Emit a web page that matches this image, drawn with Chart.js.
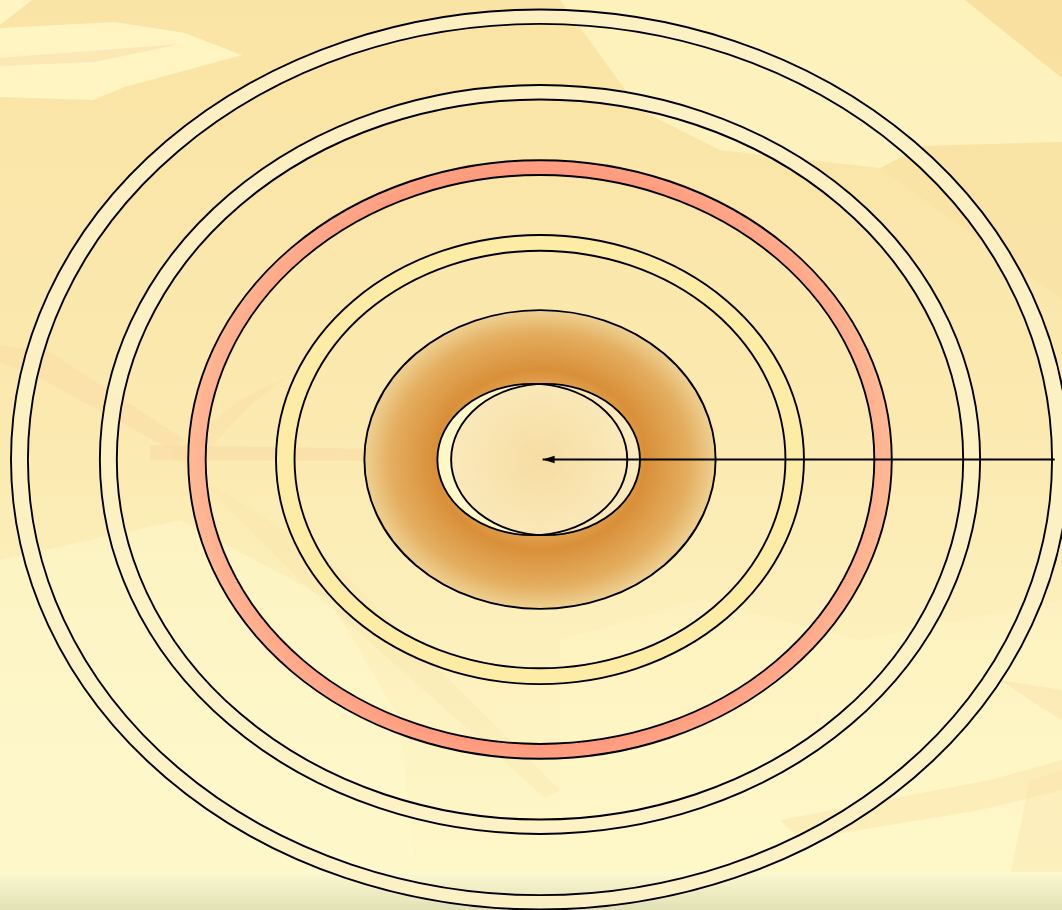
<!DOCTYPE html>
<html>
<head>
<meta charset="utf-8">
<script src="https://cdn.jsdelivr.net/npm/chart.js@4.4.1/dist/chart.umd.min.js"></script>
<style>
  html, body { margin: 0; padding: 0; background: #FAE6A8; overflow: hidden; }
  #wrap { width: 1062px; height: 910px; position: relative; }
</style>
</head>
<body>
<div id="wrap"><canvas id="c"></canvas></div>
<script>
// ---- data (radii in chart units; outermost ring = 100) ----
const ringNames  = ['Ring A', 'Ring B', 'Ring C', 'Ring D'];
const ringOuter  = [100.0, 83.2, 66.5, 49.9];
const ringInner  = [96.8, 80.0, 63.2, 46.4];
const discRadius = [33.2];
const coreCenterX = [-1.45, 1.05];
const coreRadiusX = [17.95, 17.85];
const coreRadiusY = [16.8, 16.8];
const arrowX = [97.3, 0.5];
const arrowY = [0, 0];

// axis bounds
const X_MIN = -102.08, X_MAX = 98.68;
const Y_MIN = -100.1,  Y_MAX = 102.1;

// ---- styles ----
const ringFills = ['rgba(252,241,196,0.92)', 'rgba(252,241,196,0.92)', 'salmon', 'rgba(253,236,166,1)'];
const LINE_W = 1.9;

function ellipse(ctx, cx, cy, rx, ry) {
  ctx.beginPath();
  ctx.ellipse(cx, cy, rx, ry, 0, 0, Math.PI * 2);
}
function poly(ctx, pts, color) {
  ctx.beginPath();
  ctx.moveTo(pts[0][0], pts[0][1]);
  for (let i = 1; i < pts.length; i++) ctx.lineTo(pts[i][0], pts[i][1]);
  ctx.closePath();
  ctx.fillStyle = color;
  ctx.fill();
}

const bgPlugin = {
  id: 'bg',
  beforeDraw(chart) {
    const ctx = chart.ctx, W = chart.width, H = chart.height;
    ctx.save();
    const g = ctx.createLinearGradient(0, 0, 0, H);
    g.addColorStop(0, '#FAE4A5');
    g.addColorStop(0.45, '#FBE9AF');
    g.addColorStop(0.8, '#FDF3C2');
    g.addColorStop(1, '#FEF8CA');
    ctx.fillStyle = g;
    ctx.fillRect(0, 0, W, H);
    // lighter streaks
    const L = 'rgba(254,248,200,0.85)';
    poly(ctx, [[0,0],[32,0],[0,25]], L);
    poly(ctx, [[0,28],[115,22],[185,33],[242,55],[125,87],[93,100],[0,97]], L);
    poly(ctx, [[0,58],[180,44],[95,62],[0,66]], 'rgba(250,224,170,0.6)');
    poly(ctx, [[560,0],[965,0],[1062,78],[1062,142],[925,146],[880,168],[720,150],[640,110]], 'rgba(254,246,198,0.7)');
    poly(ctx, [[965,0],[1062,0],[1062,78]], 'rgba(248,222,158,0.6)');
    poly(ctx, [[880,168],[925,146],[1062,142],[1062,300],[980,240]], 'rgba(247,220,158,0.35)');
    poly(ctx, [[0,560],[180,520],[330,600],[400,720],[420,910],[0,910]], 'rgba(254,250,205,0.5)');
    poly(ctx, [[560,640],[700,600],[860,640],[1062,600],[1062,880],[560,880]], 'rgba(254,248,200,0.35)');
    // darker streaks
    const D = 'rgba(248,216,160,0.35)';
    poly(ctx, [[0,345],[50,352],[185,440],[175,452],[40,378],[0,362]], D);
    poly(ctx, [[150,445],[380,449],[380,461],[150,460]], 'rgba(248,214,160,0.45)');
    poly(ctx, [[170,455],[240,400],[290,375],[250,405],[190,470]], 'rgba(248,216,160,0.25)');
    poly(ctx, [[190,470],[330,560],[560,790],[545,798],[300,580]], 'rgba(248,222,165,0.25)');
    poly(ctx, [[1000,680],[1062,690],[1062,720],[1030,700]], D);
    poly(ctx, [[780,820],[990,780],[1062,760],[1062,790],[980,810],[800,840]], 'rgba(248,220,160,0.35)');
    poly(ctx, [[1030,780],[1062,770],[1062,875],[1010,875]], 'rgba(248,222,165,0.3)');
    // footer strip
    const f = ctx.createLinearGradient(0, 872, 0, H);
    f.addColorStop(0, '#FCF8D0');
    f.addColorStop(1, '#E2E1B6');
    ctx.fillStyle = f;
    ctx.fillRect(0, 872, W, H - 872);
    ctx.restore();
  }
};

const ringsPlugin = {
  id: 'rings',
  beforeDatasetsDraw(chart) {
    const ctx = chart.ctx, xs = chart.scales.x, ys = chart.scales.y;
    const cx = xs.getPixelForValue(0), cy = ys.getPixelForValue(0);
    const rxOf = r => xs.getPixelForValue(r) - cx;
    const ryOf = r => cy - ys.getPixelForValue(r);
    ctx.save();
    ctx.lineWidth = LINE_W;
    ctx.strokeStyle = '#000';
    // rings
    for (let i = 0; i < ringOuter.length; i++) {
      const ro = ringOuter[i], ri = ringInner[i];
      ctx.beginPath();
      ctx.ellipse(cx, cy, rxOf(ro), ryOf(ro), 0, 0, Math.PI * 2);
      ctx.ellipse(cx, cy, rxOf(ri), ryOf(ri), 0, Math.PI * 2, 0, true);
      if (ringFills[i] === 'salmon') {
        const rg = ctx.createRadialGradient(cx, cy, ryOf(ri), cx, cy, rxOf(ro));
        rg.addColorStop(0, '#FF987C');
        rg.addColorStop(0.35, '#FFA486');
        rg.addColorStop(1, '#FFBA96');
        ctx.fillStyle = rg;
      } else {
        ctx.fillStyle = ringFills[i];
      }
      ctx.fill('evenodd');
      ellipse(ctx, cx, cy, rxOf(ro), ryOf(ro)); ctx.stroke();
      ellipse(ctx, cx, cy, rxOf(ri), ryOf(ri)); ctx.stroke();
    }
    // gradient disc
    const dr = discRadius[0];
    const drx = rxOf(dr), dry = ryOf(dr);
    ctx.save();
    ctx.translate(cx, cy);
    ctx.scale(1, dry / drx);
    const dg = ctx.createRadialGradient(0, 0, 0, 0, 0, drx);
    dg.addColorStop(0, '#FAE6B0');
    dg.addColorStop(0.35, '#EDBE75');
    dg.addColorStop(0.6, '#D98F38');
    dg.addColorStop(0.85, '#E4AE60');
    dg.addColorStop(1, '#EED193');
    ctx.fillStyle = dg;
    ctx.beginPath();
    ctx.arc(0, 0, drx, 0, Math.PI * 2);
    ctx.fill();
    ctx.restore();
    ellipse(ctx, cx, cy, drx, dry); ctx.stroke();
    // core ellipses
    for (let i = 0; i < coreCenterX.length; i++) {
      const ex = xs.getPixelForValue(coreCenterX[i]);
      const erx = xs.getPixelForValue(coreRadiusX[i]) - cx;
      const ery = cy - ys.getPixelForValue(coreRadiusY[i]);
      ellipse(ctx, ex, cy, erx, ery);
      if (i === 0) {
        ctx.fillStyle = '#FEF7C8';
      } else {
        const cg = ctx.createRadialGradient(cx, cy, 0, cx, cy, erx);
        cg.addColorStop(0, '#F6DDA2');
        cg.addColorStop(1, '#FBEABD');
        ctx.fillStyle = cg;
      }
      ctx.fill();
    }
    for (let i = 0; i < coreCenterX.length; i++) {
      const ex = xs.getPixelForValue(coreCenterX[i]);
      const erx = xs.getPixelForValue(coreRadiusX[i]) - cx;
      const ery = cy - ys.getPixelForValue(coreRadiusY[i]);
      ellipse(ctx, ex, cy, erx, ery);
      ctx.stroke();
    }
    ctx.restore();
  }
};

const arrowHeadPlugin = {
  id: 'arrowHead',
  afterDatasetsDraw(chart) {
    const meta = chart.getDatasetMeta(0);
    const tip = meta.data[meta.data.length - 1];
    const ctx = chart.ctx;
    ctx.save();
    ctx.fillStyle = '#000';
    ctx.beginPath();
    ctx.moveTo(tip.x, tip.y);
    ctx.lineTo(tip.x + 12, tip.y - 3.8);
    ctx.lineTo(tip.x + 12, tip.y + 3.8);
    ctx.closePath();
    ctx.fill();
    ctx.restore();
  }
};

new Chart(document.getElementById('c'), {
  type: 'scatter',
  data: {
    datasets: [{
      label: 'Arrow',
      data: arrowX.map((x, i) => ({ x: x, y: arrowY[i] })),
      showLine: true,
      borderColor: '#000',
      borderWidth: LINE_W,
      pointRadius: 0,
      fill: false
    }]
  },
  options: {
    responsive: true,
    maintainAspectRatio: false,
    animation: false,
    layout: { padding: 0 },
    plugins: { legend: { display: false }, tooltip: { enabled: false } },
    scales: {
      x: { type: 'linear', min: X_MIN, max: X_MAX, display: false },
      y: { type: 'linear', min: Y_MIN, max: Y_MAX, display: false }
    }
  },
  plugins: [bgPlugin, ringsPlugin, arrowHeadPlugin]
});
</script>
</body>
</html>
